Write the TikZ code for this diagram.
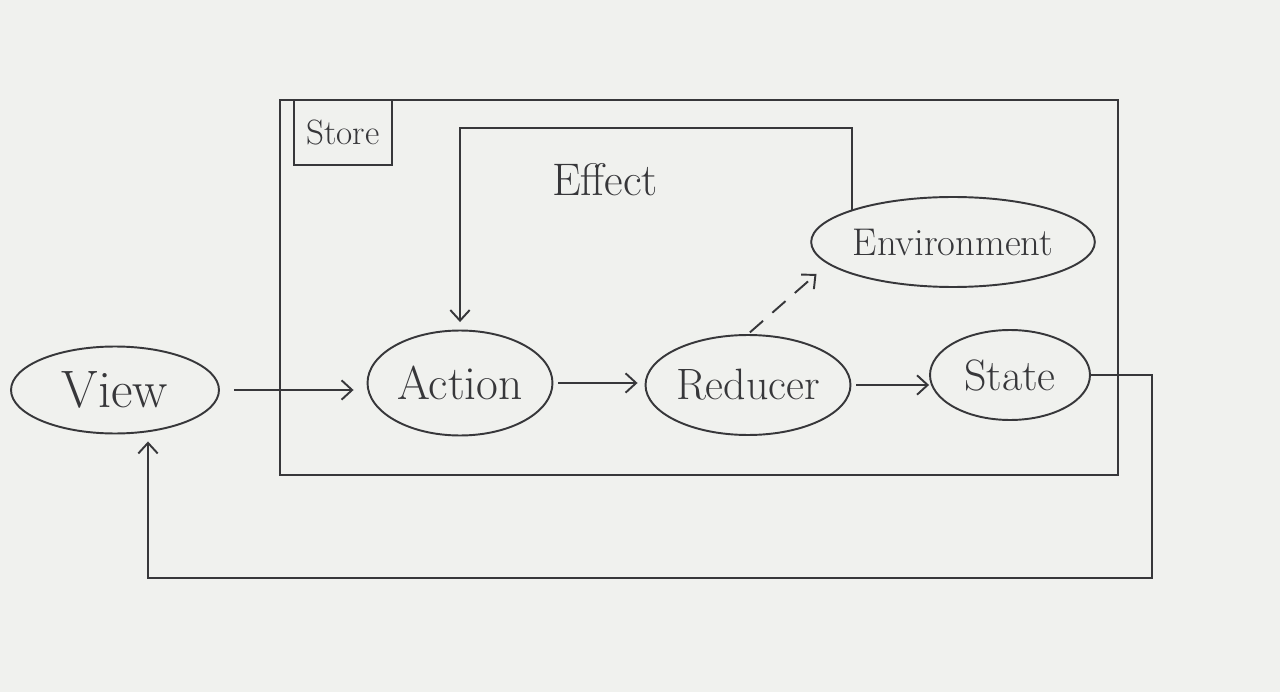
\documentclass[tikz,border=0pt]{standalone}
\usetikzlibrary{shapes.geometric,arrows.meta,calc}
\definecolor{paper}{RGB}{240,241,238}
\definecolor{ink}{RGB}{55,55,58}
\begin{document}
\begin{tikzpicture}[x=0.02cm,y=-0.02cm,
  line width=1.1pt, ink,
  every node/.style={text=ink},
  blob/.style={draw=ink, ellipse, inner sep=0pt},
  arr/.style={draw=ink, -{Straight Barb[length=6pt,width=11pt]}},
  wire/.style={draw=ink},
  box/.style={draw=ink, rectangle, inner sep=0pt}]
\fill[paper] (0,0) rectangle (1280,692);
\useasboundingbox (0,0) rectangle (1280,692);

% store box
\node[box, minimum width=16.76cm, minimum height=7.5cm] (store) at (699,287.5) {};
\node[box, anchor=north west, minimum width=1.95cm, minimum height=1.3cm,
      font=\fontsize{20}{22}\selectfont] (storelbl) at ($(store.north west)+(14,0)$) {Store};

% nodes
\node[blob, minimum width=4.16cm, minimum height=1.74cm, font=\fontsize{30}{32}\selectfont] (view) at (115,390) {View};
\node[blob, minimum width=3.7cm, minimum height=2.1cm, font=\fontsize{27}{30}\selectfont] (action) at (460,383) {Action};
\node[blob, minimum width=4.1cm, minimum height=2.0cm, font=\fontsize{25}{28}\selectfont] (reducer) at (748,385) {Reducer};
\node[blob, minimum width=3.2cm, minimum height=1.8cm, font=\fontsize{25}{28}\selectfont] (state) at (1010,375) {State};
\node[blob, minimum width=5.5cm, minimum height=1.8cm, font=\fontsize{22}{25}\selectfont] (env) at (953,242) {Environment};
\node[font=\fontsize{26}{28}\selectfont] (efflbl) at (605,180) {Effect};

% main flow
\draw[arr, shorten <=0.28cm, shorten >=0.26cm] (view.east) -- (action.west |- view.east);
\draw[arr, shorten <=0.1cm, shorten >=0.14cm] (action.east) -- (reducer.west |- action.east);
\draw[arr, shorten <=0.1cm, shorten >=0.0cm] (reducer.east) -- (state.west |- reducer.east);

% effect loop
\coordinate (etop) at (460,128);
\draw[arr, shorten >=0.15cm] (env.north west) |- (etop) -- (action.north);

% dependency on environment
\draw[arr, dashed, dash pattern=on 10pt off 7pt, shorten <=0.05cm, shorten >=0.3cm] (reducer.north) -- (env.190);

% state back to view
\coordinate (c1) at (1152,375);
\coordinate (c2) at (1152,578);
\coordinate (c3) at (148,578);
\draw[arr, shorten >=0.14cm] (state.east) -- (c1) -- (c2) -- (c3) -- (c3 |- view.south);
\end{tikzpicture}
\end{document}
